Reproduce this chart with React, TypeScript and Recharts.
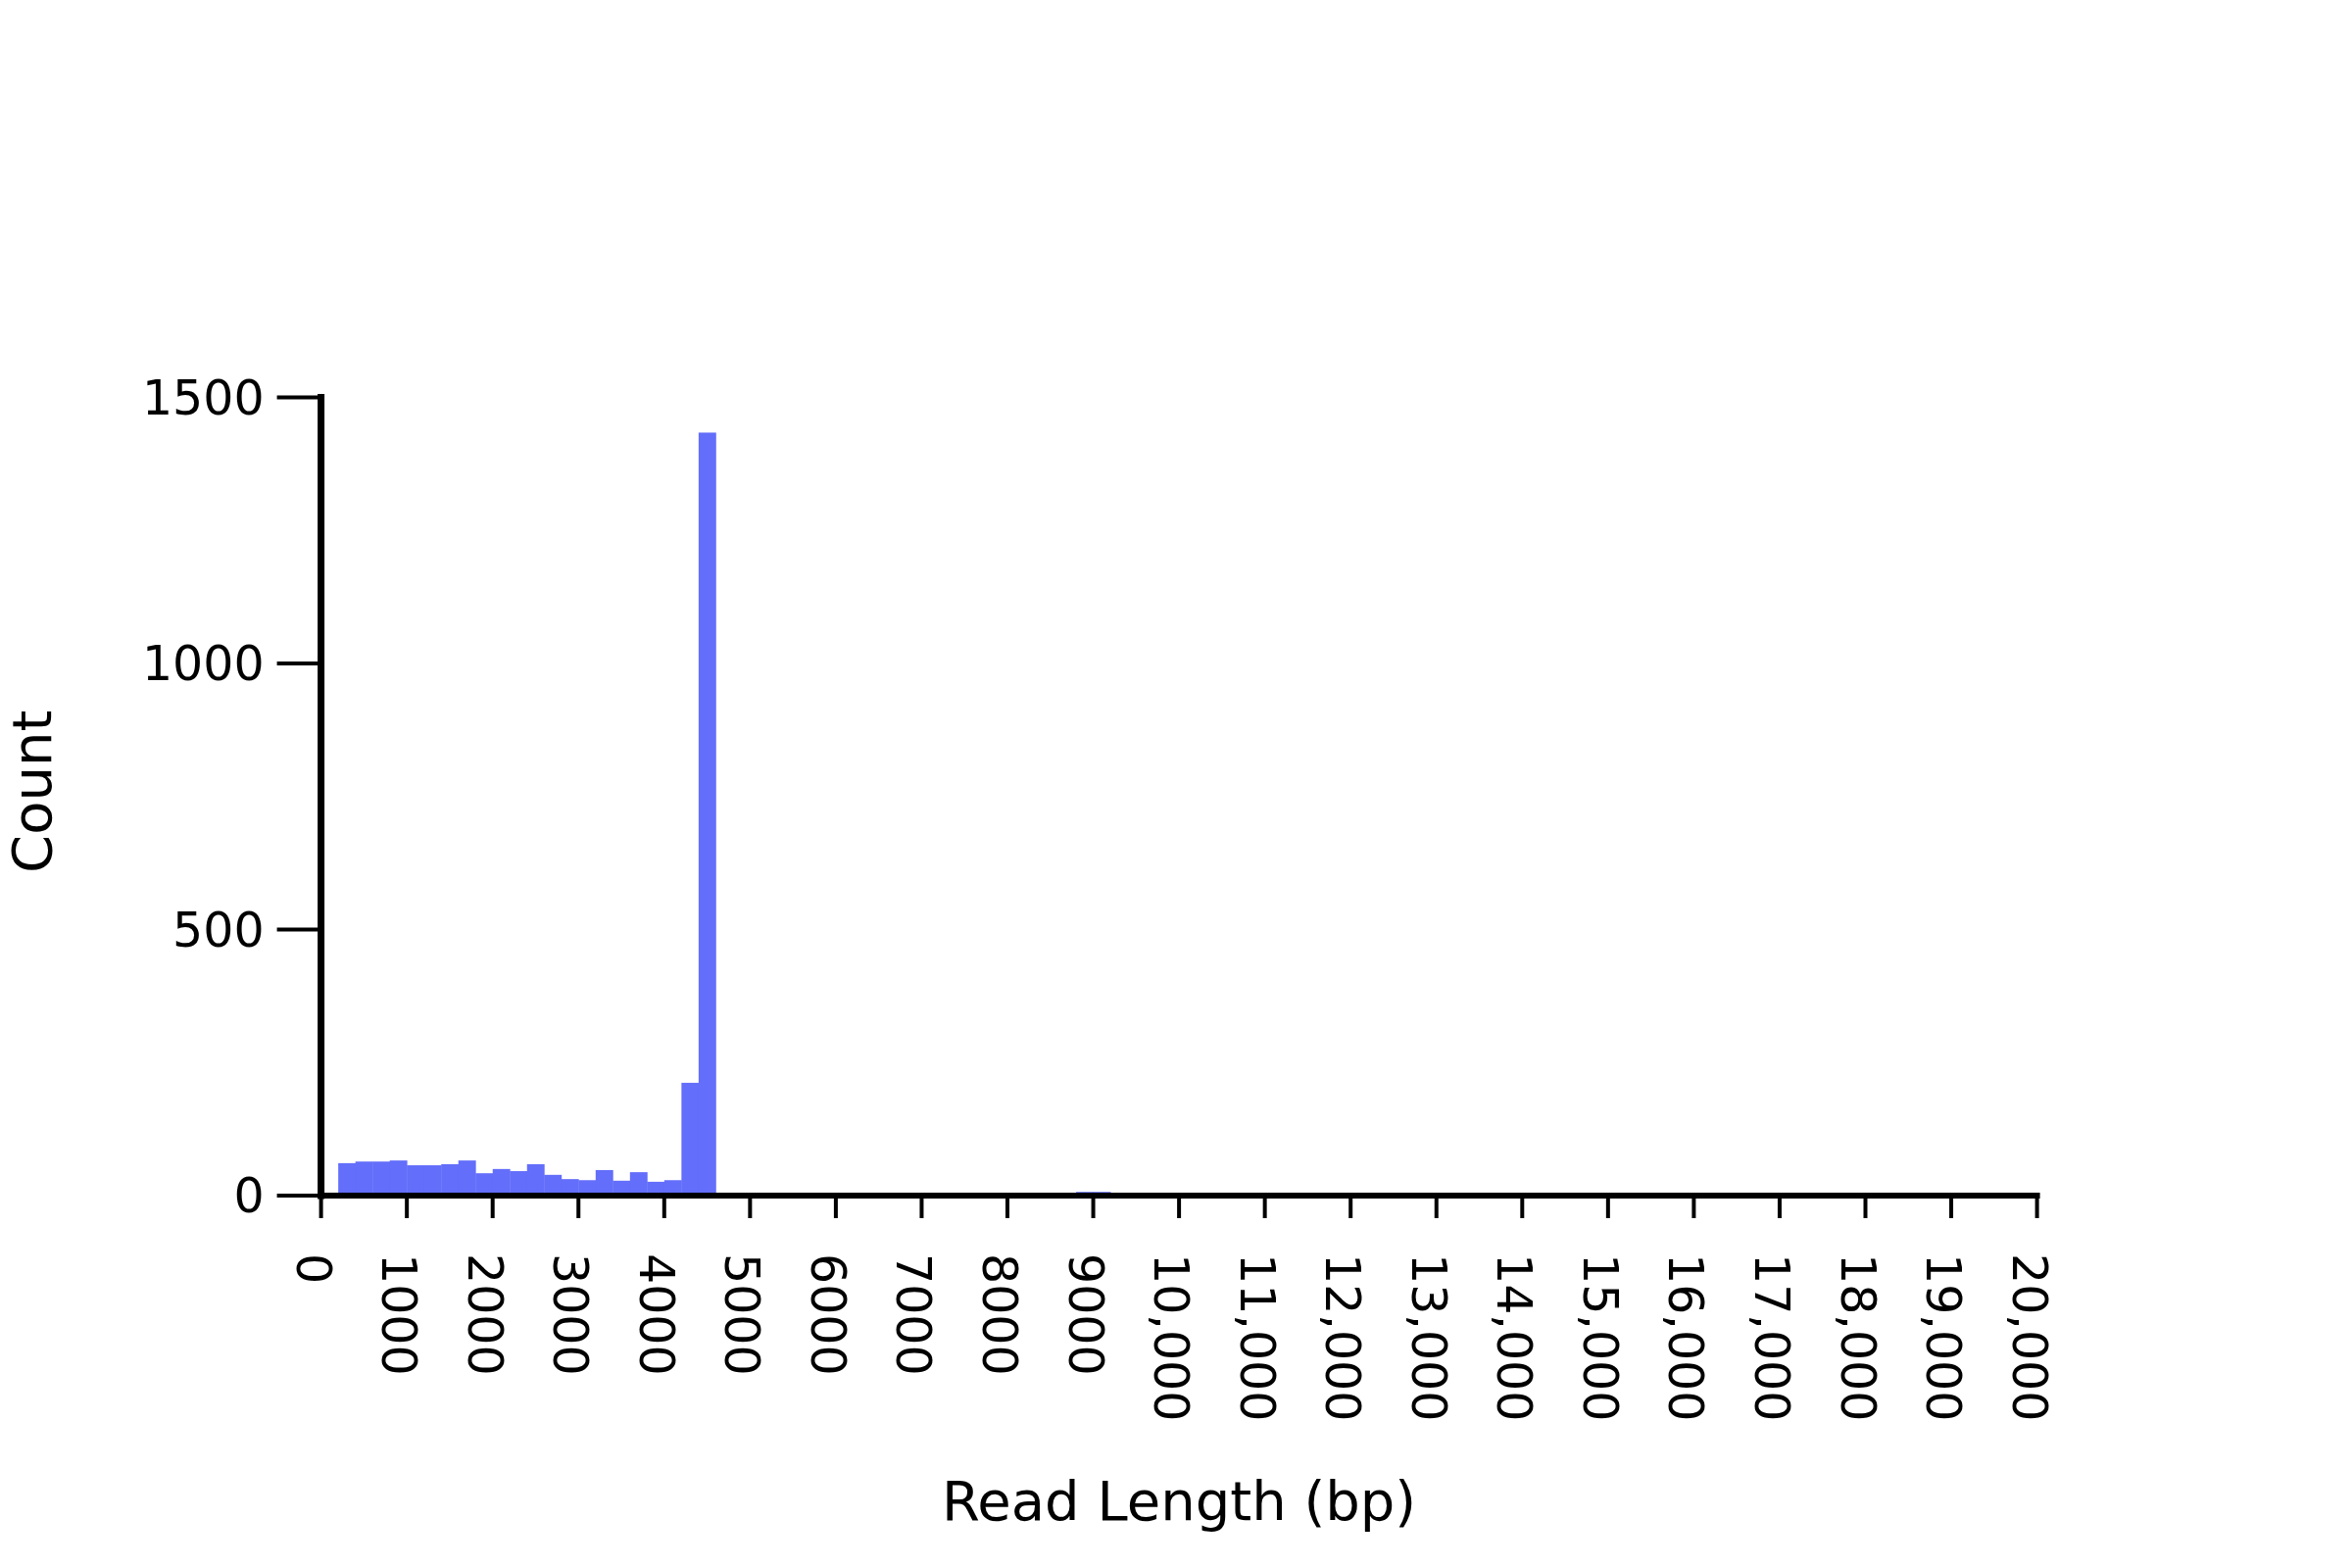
import { BarChart, Bar, XAxis, YAxis, Label } from 'recharts'

// histogram of read lengths, 200 bp bins
const BIN_WIDTH = 200

// counts for the bins 0-200, 200-400, ... 4400-4600
const headCounts = [4, 61, 64, 64, 66, 57, 57, 59, 66, 42, 50, 46, 59, 39, 31, 29, 48, 28, 44, 26, 29, 212, 1434]

// sparse long-read tail: bin start (bp) and count
const tailStarts = [5800, 6200, 7000, 7600, 7800, 8000, 8400, 8600, 8800, 9000, 10400]
const tailCounts = [1, 1, 1, 1, 1, 1, 1, 1, 7, 7, 1]

const xTicks = [0, 1000, 2000, 3000, 4000, 5000, 6000, 7000, 8000, 9000, 10000, 11000, 12000, 13000, 14000, 15000, 16000, 17000, 18000, 19000, 20000]
const yTicks = [0, 500, 1000, 1500]

const data = [
  ...headCounts.map((count, i) => ({ x: i * BIN_WIDTH + BIN_WIDTH / 2, count })),
  ...tailStarts.map((start, i) => ({ x: start + BIN_WIDTH / 2, count: tailCounts[i] })),
]

const FONT = '"DejaVu Sans", Verdana, sans-serif'
const W = 2400
const H = 1600
const margin = { top: 405.6, right: 321.4, bottom: 0, left: 0 }
const yAxisWidth = 327.6
const plotW = W - margin.left - margin.right - yAxisWidth
// one bin in pixels; recharts shrinks bars that fill the whole band, so the
// shape widens them back to the full bin (plus a hair, so no seams show)
const binPx = (plotW * BIN_WIDTH) / 20000 + 0.4

const fmt = (v: number) => (v >= 10000 ? v.toLocaleString('en-US') : String(v))

const HistBar = (p: any) => {
  if (!p.height) return null
  const cx = p.x + p.width / 2
  return <rect x={cx - binPx / 2} y={p.y} width={binPx} height={p.height} fill={p.fill} />
}

const XTick = ({ x, y, payload }: any) => (
  <text
    transform={`translate(${x - 25}, ${y}) rotate(90)`}
    textAnchor="start"
    fontSize={49}
    fontFamily={FONT}
    fill="#000"
  >
    {fmt(payload.value)}
  </text>
)

const XTitle = ({ viewBox }: any) => (
  <text
    x={viewBox.x + viewBox.width / 2}
    y={1551}
    textAnchor="middle"
    fontSize={56}
    fontFamily={FONT}
    fill="#000"
  >
    Read Length (bp)
  </text>
)

const YTitle = ({ viewBox }: any) => (
  <text
    transform={`translate(52, ${viewBox.y + viewBox.height / 2 - 5}) rotate(-90)`}
    textAnchor="middle"
    fontSize={56}
    fontFamily={FONT}
    fill="#000"
  >
    Count
  </text>
)

export default function App() {
  return (
    <div style={{ position: 'absolute', left: 0, top: 0, width: W, height: H, background: '#fff' }}>
      <BarChart width={W} height={H} data={data} margin={margin} barGap={0} barCategoryGap={0}>
        <XAxis
          dataKey="x"
          type="number"
          domain={[0, 20000]}
          ticks={xTicks}
          interval={0}
          height={H - 1220}
          tick={<XTick />}
          tickSize={23}
          tickMargin={36}
          axisLine={{ stroke: '#000', strokeWidth: 6, strokeLinecap: 'square' }}
          tickLine={{ stroke: '#000', strokeWidth: 4 }}
        >
          <Label content={<XTitle />} />
        </XAxis>
        <YAxis
          type="number"
          domain={[0, 1500]}
          ticks={yTicks}
          interval={0}
          width={yAxisWidth}
          tickSize={45}
          tickMargin={13}
          tick={{ fill: '#000', fontSize: 49, fontFamily: FONT }}
          axisLine={{ stroke: '#000', strokeWidth: 7, strokeLinecap: 'square' }}
          tickLine={{ stroke: '#000', strokeWidth: 4 }}
        >
          <Label content={<YTitle />} />
        </YAxis>
        <Bar dataKey="count" fill="#636efa" shape={<HistBar />} isAnimationActive={false} />
      </BarChart>
    </div>
  )
}
